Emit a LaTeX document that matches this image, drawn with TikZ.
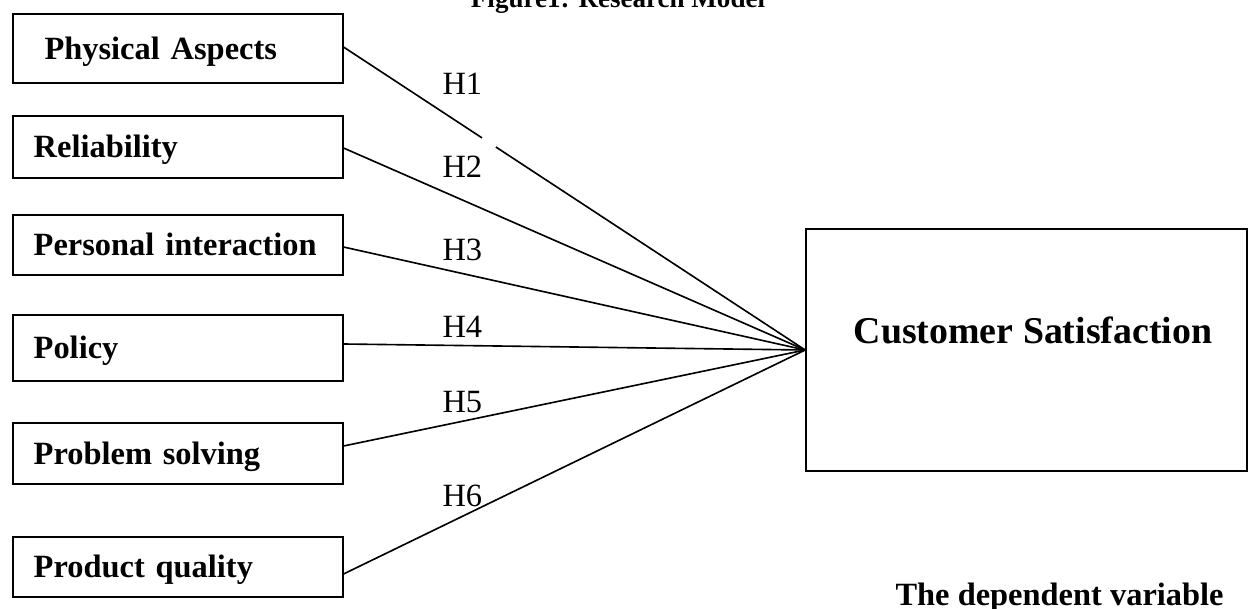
\documentclass[tikz,border=0pt]{standalone}
\usepackage{fontspec}
\setmainfont{Liberation Serif}
\usetikzlibrary{positioning}

\def\px{0.013cm}

\begin{document}
\begin{tikzpicture}[x=0.013cm,y=-0.013cm,
    box/.style={draw,line width=0.6pt,inner xsep=0pt,minimum width=330*\px,text width=288*\px,align=left,
                text height=9.6pt,text depth=1.8pt,font=\fontsize{12}{14}\selectfont\bfseries},
    conn/.style={line width=0.6pt},
    hlab/.style={anchor=base west,inner sep=0pt,font=\fontsize{12}{14}\selectfont}]

  \useasboundingbox (0,0) rectangle (1249,608);

	%title (cut at the top)
  \node[anchor=base,font=\fontsize{10}{12}\selectfont\bfseries] (title) at (618,8) {Figure1: Research Model};

	%independent variables
    \foreach \i/\yc/\h/\txt in {1/48.5/69/{~Physical Aspects}, 2/147/62/Reliability, 3/245/60/Personal interaction,
                                4/348/66/Policy, 5/453.5/61/Problem solving, 6/567/60/Product quality}{
         \node[box,minimum height=\h*\px] (f\i) at (177.7,\yc) {\txt};
    }

	%dependent variable
  \node[draw,line width=0.6pt,inner sep=0pt,minimum width=441*\px,minimum height=242*\px] (cs) at (1026.5,350) {};
  \node[anchor=base,font=\fontsize{14}{16}\selectfont\bfseries] (cstxt) at (1033,343) {Customer Satisfaction};
  \node[anchor=base west,inner sep=0pt,font=\fontsize{12}{14}\selectfont\bfseries] (dep) at (895,605) {The dependent variable};

	%hypotheses
  \path ([yshift=1.5*\px]f1.east) -- (cs.west) coordinate[pos=0.30] (gapa) coordinate[pos=0.33] (gapb);
  \draw[conn] ([yshift=1.5*\px]f1.east) -- (gapa) (gapb) -- (cs.west);
    \foreach \i/\dy in {2/-1, 3/-2, 4/4, 5/7.5, 6/-7}{
         \draw[conn] ([yshift=\dy*\px]f\i.east) -- (cs.west);
    }

    \foreach \i/\yb in {1/95, 2/178, 3/260, 4/337, 5/412, 6/506}{
         \node[hlab] (h\i) at (442,\yb) {H\i};
    }

\end{tikzpicture}
\end{document}
